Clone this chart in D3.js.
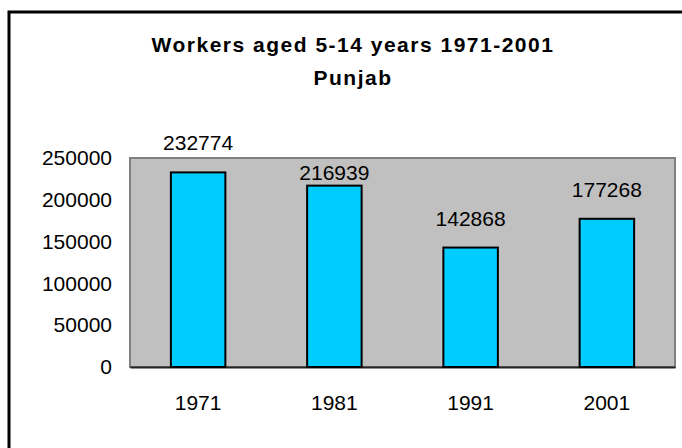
<!DOCTYPE html>
<html>
<head>
<meta charset="utf-8">
<script src="https://cdn.jsdelivr.net/npm/d3@7"></script>
<style>
  body { margin: 0; background: #fff; }
  svg text { font-family: "Liberation Sans", Arial, sans-serif; }
</style>
</head>
<body>
<div class="canvas"></div>
<script>
// data
const years = ['1971', '1981', '1991', '2001'];
const workers = [232774, 216939, 142868, 177268];
const yTicks = [0, 50000, 100000, 150000, 200000, 250000];
const titleLines = ['Workers aged 5-14 years 1971-2001', 'Punjab'];

const dims = { width: 682, height: 448 };
const plot = { left: 130, top: 158, right: 675, bottom: 367 };

const svg = d3.select('.canvas')
  .append('svg')
  .attr('width', dims.width)
  .attr('height', dims.height);

// outer frame (right and bottom edges fall outside the picture)
svg.append('rect')
  .attr('x', 9)
  .attr('y', 12)
  .attr('width', 720)
  .attr('height', 500)
  .attr('fill', 'none')
  .attr('stroke', '#000')
  .attr('stroke-width', 3);

// title
svg.selectAll('.title')
  .data(titleLines)
  .enter()
  .append('text')
    .attr('class', 'title')
    .attr('x', 353)
    .attr('y', (d, i) => 52 + i * 33)
    .attr('text-anchor', 'middle')
    .attr('font-weight', 'bold')
    .attr('font-size', 21)
    .attr('letter-spacing', 1.5)
    .attr('fill', '#000')
    .text(d => d);

// scales
const x = d3.scaleBand()
  .domain(years)
  .range([plot.left, plot.right])
  .paddingInner(0.6)
  .paddingOuter(0.3);

const y = d3.scaleLinear()
  .domain([0, 250000])
  .range([plot.bottom, plot.top]);

// plot area
svg.append('rect')
  .attr('x', plot.left)
  .attr('y', plot.top)
  .attr('width', plot.right - plot.left)
  .attr('height', plot.bottom - plot.top)
  .attr('fill', '#c0c0c0')
  .attr('stroke', '#808080')
  .attr('stroke-width', 2);

// y axis labels
const yAxis = d3.axisLeft(y)
  .tickValues(yTicks)
  .tickSize(0)
  .tickPadding(18)
  .tickFormat(d3.format('d'));

svg.append('g')
  .attr('transform', `translate(${plot.left}, 0)`)
  .call(yAxis)
  .call(g => g.select('.domain').remove())
  .call(g => g.selectAll('text')
    .attr('font-size', 21)
    .attr('fill', '#000'));

// x axis labels
const xAxis = d3.axisBottom(x)
  .tickSize(0)
  .tickPadding(28);

svg.append('g')
  .attr('transform', `translate(0, ${plot.bottom})`)
  .call(xAxis)
  .call(g => g.select('.domain')
    .attr('stroke', '#222')
    .attr('stroke-width', 2))
  .call(g => g.selectAll('text')
    .attr('font-size', 21)
    .attr('fill', '#000'));

// bars
svg.selectAll('.bar')
  .data(workers)
  .enter()
  .append('rect')
    .attr('class', 'bar')
    .attr('x', (d, i) => x(years[i]))
    .attr('y', d => y(d))
    .attr('width', x.bandwidth())
    .attr('height', d => plot.bottom - y(d))
    .attr('fill', '#00ccff')
    .attr('stroke', '#000')
    .attr('stroke-width', 2);

// value labels, pushed inside when they would sit on the plot edge
svg.selectAll('.val')
  .data(workers)
  .enter()
  .append('text')
    .attr('class', 'val')
    .attr('x', (d, i) => x(years[i]) + x.bandwidth() / 2)
    .attr('y', d => {
      let base = y(d) - 22;
      if (base > plot.top && base - 17 < plot.top) base = y(d) - 6;
      return base;
    })
    .attr('text-anchor', 'middle')
    .attr('font-size', 21)
    .attr('fill', '#000')
    .text(d => d);
</script>
</body>
</html>
